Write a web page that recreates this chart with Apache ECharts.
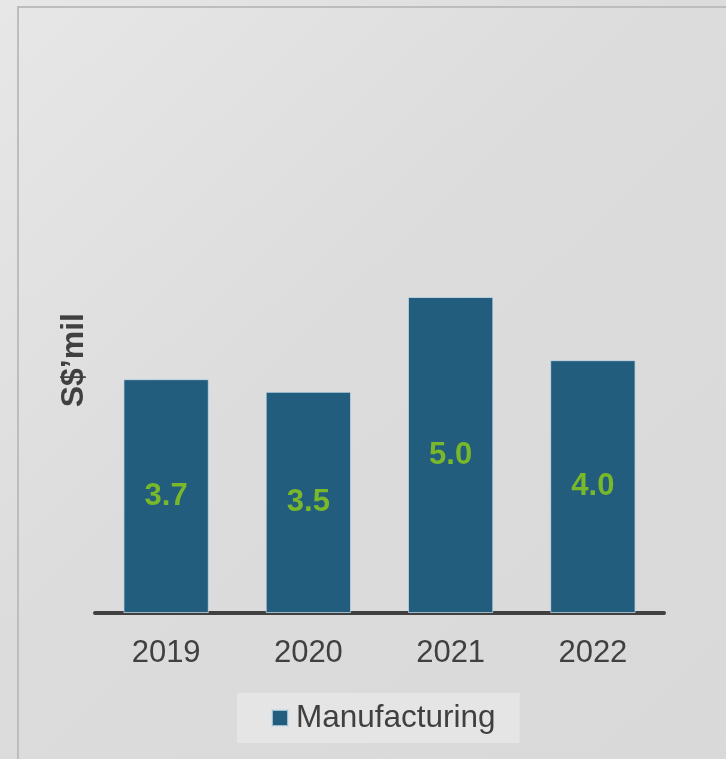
<!DOCTYPE html>
<html>
<head>
<meta charset="utf-8">
<style>
html,body{margin:0;padding:0;width:726px;height:759px;overflow:hidden;background:#dcdcdc;}
#chart{width:726px;height:759px;}
</style>
<script src="https://cdn.jsdelivr.net/npm/echarts@6/dist/echarts.min.js"></script>
</head>
<body>
<div id="chart"></div>
<script>
var categories = ['2019', '2020', '2021', '2022'];
var manufacturing = [3.7, 3.5, 5.0, 4.0];
var seriesName = 'Manufacturing';
var yAxisName = 'S$\u2019mil';

var FONT = '"Liberation Sans", Arial, Helvetica, sans-serif';
var chart = echarts.init(document.getElementById('chart'), null, {renderer: 'canvas'});
chart.setOption({
  animation: false,
  backgroundColor: {
    type: 'linear', x: 0, y: 0, x2: 1, y2: 1,
    colorStops: [
      {offset: 0, color: '#e7e7e7'},
      {offset: 0.45, color: '#dcdcdc'},
      {offset: 1, color: '#d9d9d9'}
    ]
  },
  graphic: [{
    type: 'rect',
    shape: {x: 18, y: 7, width: 900, height: 900},
    style: {fill: 'transparent', stroke: '#bdbdbd', lineWidth: 2},
    silent: true,
    z: -10
  }],
  grid: {left: 95, right: 62, top: 107.4, bottom: 146, containLabel: false},
  legend: {
    data: [seriesName],
    left: 237,
    top: 693,
    padding: [9, 24, 9, 34],
    backgroundColor: '#e5e5e5',
    itemWidth: 16,
    itemHeight: 16,
    itemGap: 10,
    icon: 'rect',
    textStyle: {fontFamily: FONT, fontSize: 31.5, color: '#404040', lineHeight: 32, padding: [0, 0, 0, 3]}
  },
  xAxis: {
    type: 'category',
    data: categories,
    axisLine: {show: true, lineStyle: {color: '#404040', width: 4}},
    axisTick: {show: false},
    axisLabel: {fontFamily: FONT, fontSize: 31, color: '#404040', margin: 25}
  },
  yAxis: {
    type: 'value',
    min: 0,
    max: 8,
    interval: 1,
    name: yAxisName,
    nameLocation: 'middle',
    nameRotate: 90,
    nameGap: 5,
    nameTextStyle: {fontFamily: FONT, fontSize: 32, fontWeight: 'bold', color: '#404040'},
    axisLine: {show: false},
    axisTick: {show: false},
    axisLabel: {show: false},
    splitLine: {show: false}
  },
  series: [{
    name: seriesName,
    type: 'bar',
    data: manufacturing,
    barWidth: '60%',
    itemStyle: {color: '#235d7d', borderColor: 'rgba(200,220,235,0.75)', borderWidth: 1},
    label: {
      show: true,
      position: 'inside',
      formatter: function (p) { return p.value.toFixed(1); },
      fontFamily: FONT,
      fontSize: 31,
      fontWeight: 'bold',
      color: '#78b82a'
    }
  }]
});
</script>
</body>
</html>
